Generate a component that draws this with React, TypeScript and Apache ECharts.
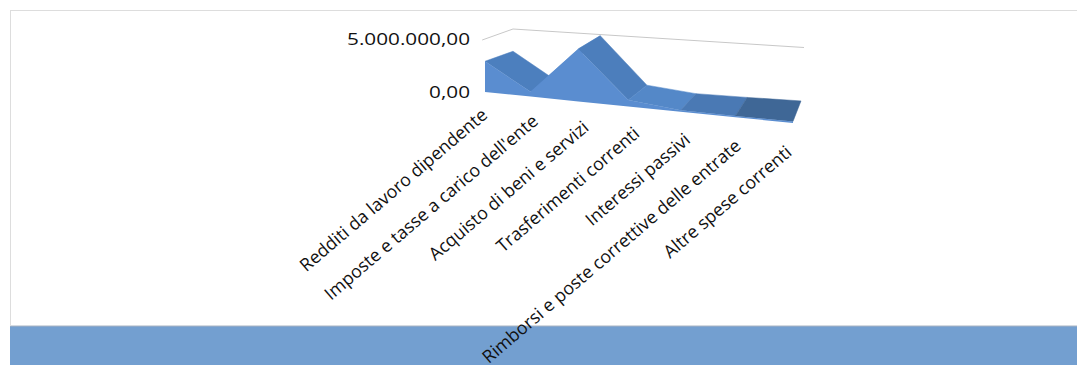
import React, { useEffect, useRef } from "react";
import * as echarts from "echarts";

const categories = [
  "Redditi da lavoro dipendente",
  "Imposte e tasse a carico dell'ente",
  "Acquisto di beni e servizi",
  "Trasferimenti correnti",
  "Interessi passivi",
  "Rimborsi e poste correttive delle entrate",
  "Altre spese correnti",
];
const values = [2900000, 450000, 4950000, 600000, 130000, 120000, 150000];
const valueTicks = [0, 5000000];
const valueLabels = ["0,00", "5.000.000,00"];
const topColors = ["#4C7FBE", "#5A8CCE", "#4C7EBC", "#5488C8", "#4A79B4", "#3F6796"];

const X0 = 485;
const W = 308;
const Y0 = 92;
const PX = 53;

// Perspective floor: maps a flat scale position to the sheared 3D plot
function project(xc: number, yc: number, d: number): number[] {
  const t = (xc - X0) / W;
  const tp = t / (1.15 - 0.15 * t);
  const fx = 485 + 308 * tp;
  const fy = 92 + 31 * tp;
  const bx = 513 + 288 * tp;
  const by = 82 + 20.5 * tp;
  const lift = Y0 - yc;
  return [fx + (bx - fx) * d, fy + (by - fy) * d - lift];
}

export default function App() {
  const ref = useRef<HTMLDivElement>(null);
  useEffect(() => {
    document.body.style.margin = "0";
    document.body.style.overflow = "hidden";
    const chart = echarts.init(ref.current!, undefined, { renderer: "svg" });
    const points = values.map((v, i) => [i, v]);
    const at = (api: any, i: number, v: number, d: number) => {
      const c = api.coord([i, v]);
      return project(c[0], c[1], d);
    };
    chart.setOption({
      animation: false,
      backgroundColor: "#ffffff",
      grid: { left: X0, top: Y0 - PX, width: W, height: PX, containLabel: false },
      xAxis: {
        type: "category",
        data: categories,
        boundaryGap: false,
        axisLine: { show: false },
        axisTick: { show: false },
        axisLabel: { show: false },
        splitLine: { show: false },
      },
      yAxis: {
        type: "value",
        min: valueTicks[0],
        max: valueTicks[1],
        interval: valueTicks[1],
        axisLine: { show: false },
        axisTick: { show: false },
        splitLine: { show: false },
        axisLabel: { show: false },
      },
      graphic: [
        { type: "rect", shape: { x: 10, y: 326, width: 1067, height: 39 }, style: { fill: "#739FD0" } },
        { type: "line", shape: { x1: 10, y1: 326, x2: 1077, y2: 326 }, style: { stroke: "#A9B4C2", lineWidth: 1 } },
        { type: "line", shape: { x1: 10.5, y1: 10, x2: 10.5, y2: 326 }, style: { stroke: "#DDDDDD", lineWidth: 1 } },
        { type: "line", shape: { x1: 10, y1: 10.5, x2: 1077, y2: 10.5 }, style: { stroke: "#DDDDDD", lineWidth: 1 } },
      ],
      series: [
        {
          type: "custom",
          coordinateSystem: "cartesian2d",
          clip: false,
          silent: true,
          data: [[0, valueTicks[1]]],
          renderItem: (_p: any, api: any) => {
            const v = api.value(1);
            const a = at(api, 0, v, -0.1);
            const b = at(api, 0, v, 1);
            const c = at(api, 6, v, 1);
            return {
              type: "polyline",
              shape: { points: [a, b, [c[0] + 3, c[1] - 2]] },
              style: { stroke: "#C8C8C8", lineWidth: 1, fill: "none" },
            };
          },
        },
        {
          type: "custom",
          coordinateSystem: "cartesian2d",
          clip: false,
          silent: true,
          data: points,
          renderItem: (p: any, api: any) => {
            const i = p.dataIndex;
            if (i >= values.length - 1) return { type: "group", children: [] };
            const v0 = api.value(1);
            const v1 = values[i + 1];
            return {
              type: "polygon",
              shape: { points: [at(api, i, v0, 0), at(api, i + 1, v1, 0), at(api, i + 1, v1, 1), at(api, i, v0, 1)] },
              style: { fill: topColors[i], stroke: topColors[i], lineWidth: 0.5 },
            };
          },
        },
        {
          type: "custom",
          coordinateSystem: "cartesian2d",
          clip: false,
          silent: true,
          data: points,
          z: 3,
          renderItem: (p: any, api: any) => {
            if (p.dataIndex !== 0) return { type: "group", children: [] };
            const topEdge = values.map((v, i) => at(api, i, v, 0));
            const base = values.map((_, i) => at(api, i, 0, 0)).reverse();
            return {
              type: "polygon",
              shape: { points: topEdge.concat(base) },
              style: { fill: "#5A8DD0" },
            };
          },
        },
        {
          type: "custom",
          coordinateSystem: "cartesian2d",
          clip: false,
          silent: true,
          data: points,
          z: 4,
          renderItem: (p: any, api: any) => {
            const i = p.dataIndex;
            const c = api.coord([i, 0]);
            return {
              type: "text",
              x: c[0] - 1 - i * 0.6,
              y: c[1] + 19.5 + i * 6.2,
              rotation: (40.5 * Math.PI) / 180,
              style: {
                text: categories[i],
                align: "right",
                verticalAlign: "middle",
                fontFamily: "Open Sans",
                fontSize: 17.8,
                fill: "#111",
              },
            };
          },
        },
        {
          type: "custom",
          coordinateSystem: "cartesian2d",
          clip: false,
          silent: true,
          data: valueTicks.map((v) => [0, v]),
          z: 4,
          renderItem: (p: any, api: any) => {
            const c = api.coord([0, api.value(1)]);
            return {
              type: "text",
              x: c[0] - 15,
              y: c[1],
              scaleX: 1.22,
              style: {
                text: valueLabels[p.dataIndex],
                align: "right",
                verticalAlign: "middle",
                fontFamily: "Open Sans",
                fontSize: 17,
                fill: "#111",
              },
            };
          },
        },
      ],
    });
    return () => chart.dispose();
  }, []);
  return <div ref={ref} style={{ position: "absolute", left: 0, top: 0, width: 1077, height: 365, overflow: "hidden" }} />;
}
